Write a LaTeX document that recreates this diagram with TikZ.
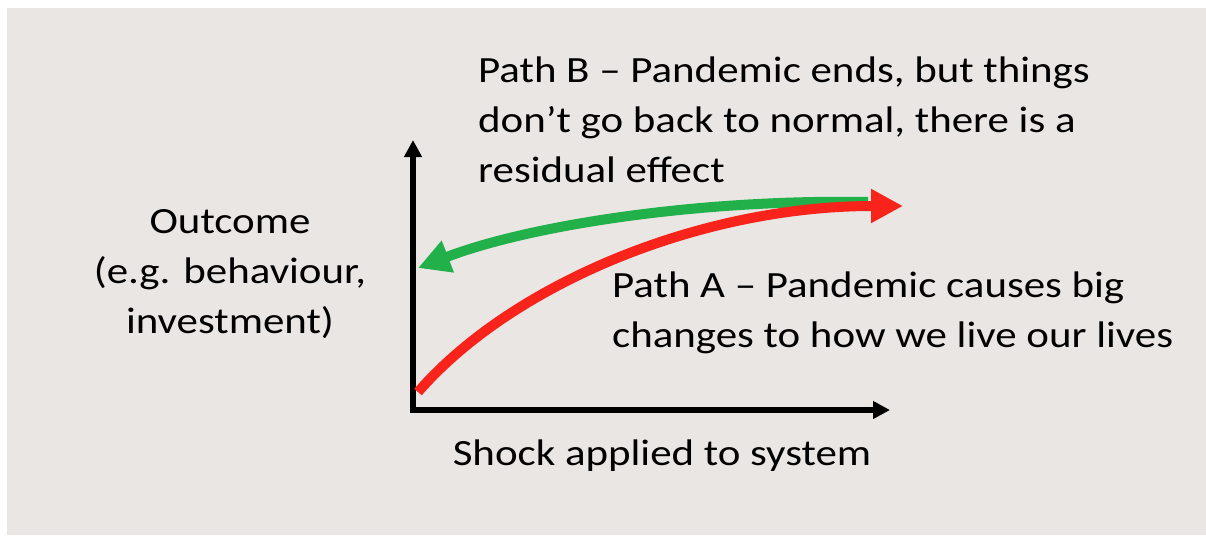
\documentclass[tikz,border=0pt]{standalone}
\usepackage{fontspec}
\setmainfont{Carlito}[FakeStretch=1.16]
\usetikzlibrary{arrows.meta}
\definecolor{bg}{HTML}{EAE6E3}
\definecolor{pathred}{HTML}{F8241C}
\definecolor{pathgreen}{HTML}{22B04A}
\tikzset{
  lbl/.style={inner sep=0pt, font=\fontsize{37}{50}\selectfont, text=black},
  axis/.style={line width=5.5pt, -{Triangle[length=17pt,width=17pt]}},
  curve/.style={line width=10pt, -{Triangle[length=32pt,width=32pt]}}
}
\begin{document}
\begin{tikzpicture}[x=1pt,y=-1pt]
\useasboundingbox (0,0) rectangle (1206,535);
\fill[white] (0,0) rectangle (1206,535);
\fill[bg] (7,8) rectangle (1206,535);
% axes
\coordinate (origin) at (413,410);
\coordinate (ytip) at (413,140);
\coordinate (xtip) at (890,410);
\draw[axis] ([yshift=2.75pt]origin) -- (ytip);
\draw[axis] ([xshift=-2.75pt]origin) -- (xtip);
% curves
\coordinate (gstart) at (868,202);
\coordinate (gend) at (418,268);
\coordinate (rstart) at (418,392);
\coordinate (rend) at (903,206);
\draw[curve, pathgreen] (gstart) .. controls (700,199) and (530,225) .. (gend);
\draw[curve, pathred] (rstart) .. controls (512,284) and (700,206) .. (rend);
% labels (base anchor = baseline of last line)
\node[lbl, anchor=base west, align=left] (pathB) at (478,182)
  {Path B -- Pandemic ends, but things\\don’t go back to normal, there is a\\residual effect};
\node[lbl, anchor=base, align=center] (outcome) at (230,333)
  {Outcome\\(e.g. behaviour,\\investment)};
\node[lbl, anchor=base west, align=left] (pathA) at (612,347)
  {Path A -- Pandemic causes big\\changes to how we live our lives};
\node[lbl, anchor=base] (shock) at (662,465) {Shock applied to system};
\end{tikzpicture}
\end{document}
